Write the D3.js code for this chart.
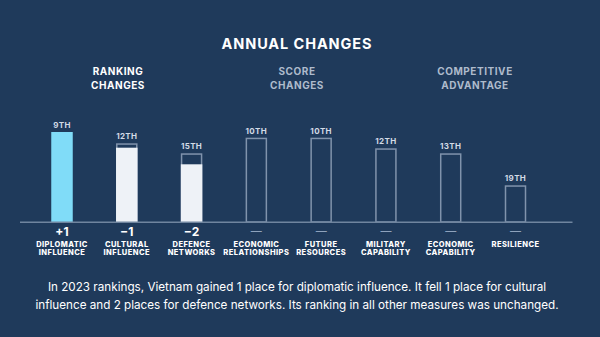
<!DOCTYPE html>
<html>
<head>
<meta charset="utf-8">
<script src="https://cdn.jsdelivr.net/npm/d3@7"></script>
<style>
html,body{margin:0;padding:0;background:#1f3a5b;}
svg{display:block;}
text{font-family:Inter,"Open Sans",sans-serif;}
</style>
</head>
<body>
<svg id="chart" width="600" height="337"></svg>
<script>
const title = "ANNUAL CHANGES";
const groupLabels = [["RANKING","CHANGES"],["SCORE","CHANGES"],["COMPETITIVE","ADVANTAGE"]];
const categories = [
  ["DIPLOMATIC","INFLUENCE"],["CULTURAL","INFLUENCE"],["DEFENCE","NETWORKS"],
  ["ECONOMIC","RELATIONSHIPS"],["FUTURE","RESOURCES"],["MILITARY","CAPABILITY"],
  ["ECONOMIC","CAPABILITY"],["RESILIENCE"]
];
const ranks = ["9TH","12TH","15TH","10TH","10TH","12TH","13TH","19TH"];
const changes = ["+1","\u22121","\u22122","\u2014","\u2014","\u2014","\u2014","\u2014"];
const currentScores = [90, 74.3, 57.7, 84.3, 84.3, 73.7, 68.7, 36.7];
const previousScores = [null, 78.7, 68.7, 84.3, 84.3, 73.7, 68.7, 36.7];
const status = ["gain","loss","loss","same","same","same","same","same"];
const caption = [
  "In 2023 rankings, Vietnam gained 1 place for diplomatic influence. It fell 1 place for cultural",
  "influence and 2 places for defence networks. Its ranking in all other measures was unchanged."
];

const svg = d3.select("#chart");
const idx = d3.range(categories.length);
const x = d3.scalePoint().domain(idx).range([62, 515.5]);
const y = d3.scaleLinear().domain([0, 100]).range([222, 122]);
const bw = 21.5;

svg.append("text").attr("x", 297).attr("y", 48.5).attr("text-anchor","middle")
  .attr("fill","#ffffff").attr("font-size",14.5).attr("font-weight",700)
  .attr("letter-spacing",0.9).text(title);

const gx = [118, 297, 475];
groupLabels.forEach((lines,i)=>{
  lines.forEach((l,j)=>{
    svg.append("text").attr("x",gx[i]).attr("y",75+j*13.5).attr("text-anchor","middle")
      .attr("fill", i===0 ? "#ffffff" : "#aebbcc").attr("font-size",10).attr("font-weight",700)
      .attr("letter-spacing",0.55).text(l);
  });
});

const outlineColor = "#8093ac";
const bars = svg.append("g");
idx.forEach(i=>{
  const cx = x(i);
  const prev = previousScores[i];
  const cur = currentScores[i];
  if (prev !== null) {
    bars.append("rect").attr("x",cx-bw/2+0.75).attr("y",y(prev)+0.75)
      .attr("width",bw-1.5).attr("height",y(0)-y(prev)-0.75)
      .attr("fill","none").attr("stroke",outlineColor).attr("stroke-width",1.5);
  }
  if (status[i] !== "same") {
    bars.append("rect").attr("x",cx-bw/2).attr("y",y(cur))
      .attr("width",bw).attr("height",y(0)-y(cur))
      .attr("fill", status[i]==="gain" ? "#80dcf8" : "#eef2f7");
  }
  const topY = prev !== null ? Math.min(y(prev), y(cur)) : y(cur);
  svg.append("text").attr("x",cx).attr("y",topY-4).attr("text-anchor","middle")
    .attr("fill","#d3dbe6").attr("font-size",8).attr("font-weight",700)
    .attr("letter-spacing",0.35).text(ranks[i]);
});

svg.append("line").attr("x1",20).attr("x2",572.5).attr("y1",222.3).attr("y2",222.3)
  .attr("stroke","#70859f").attr("stroke-width",1.5);

idx.forEach(i=>{
  const cx = x(i);
  if (status[i]==="same") {
    svg.append("text").attr("x",cx).attr("y",235).attr("text-anchor","middle")
      .attr("fill","#8ea2bc").attr("font-size",11).attr("font-weight",400).text(changes[i]);
  } else {
    svg.append("text").attr("x",cx).attr("y",236).attr("text-anchor","middle")
      .attr("fill","#ffffff").attr("font-size",12).attr("font-weight",700).text(changes[i]);
  }
  categories[i].forEach((l,j)=>{
    svg.append("text").attr("x",cx).attr("y",246.6+j*8.4).attr("text-anchor","middle")
      .attr("fill","#ffffff").attr("font-size",7.5).attr("font-weight",800)
      .attr("letter-spacing",0.45).text(l);
  });
});

caption.forEach((l,j)=>{
  svg.append("text").attr("x",297).attr("y",291+j*17.5).attr("text-anchor","middle")
    .attr("fill","#ffffff").attr("font-size",11.7).attr("font-weight",400).text(l);
});
</script>
</body>
</html>
